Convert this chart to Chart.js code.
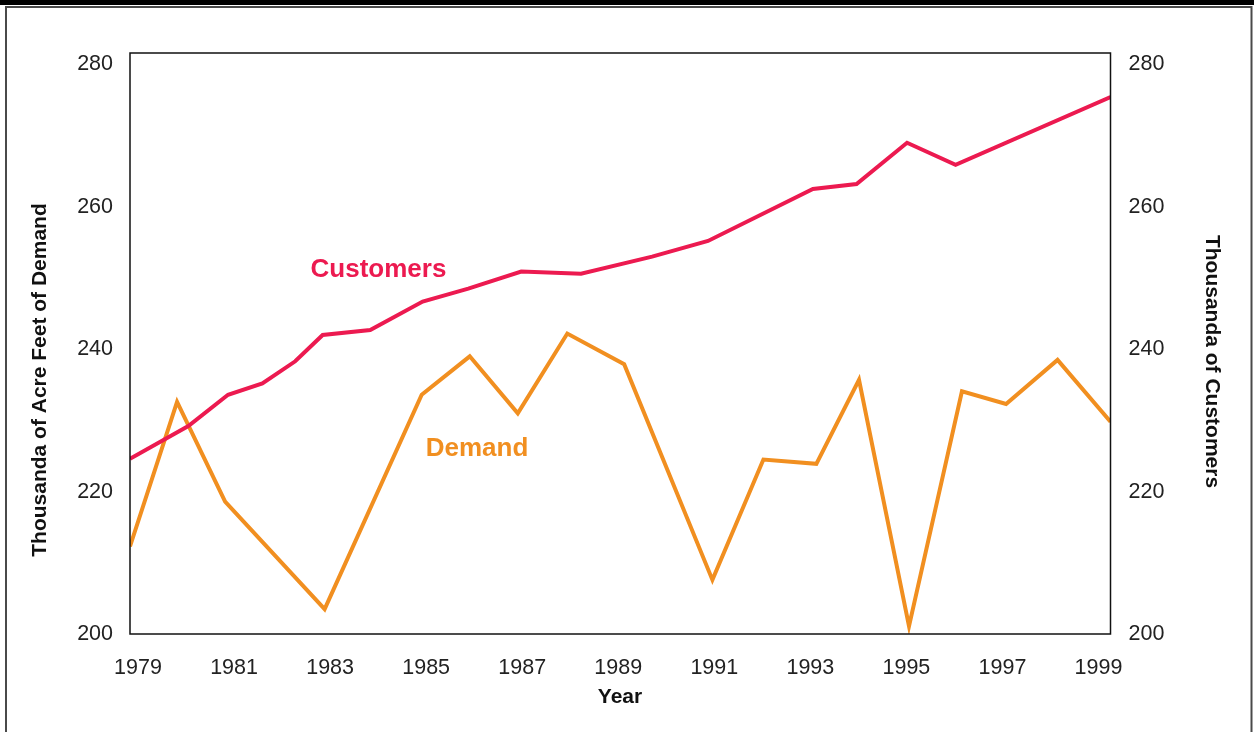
<!DOCTYPE html>
<html>
<head>
<meta charset="utf-8">
<script src="https://cdn.jsdelivr.net/npm/chart.js@4.4.1/dist/chart.umd.min.js"></script>
<style>
  html, body { margin: 0; padding: 0; background: #fff; }
  #wrap { width: 1254px; height: 732px; position: relative; }
</style>
</head>
<body>
<div id="wrap"><canvas id="c" width="1254" height="732"></canvas></div>
<script>
// ---- Data ----
const xTickYears = [1979, 1981, 1983, 1985, 1987, 1989, 1991, 1993, 1995, 1997, 1999];
const yTicks = [200, 220, 240, 260, 280];

const demandYears  = [1979.0, 1979.96, 1980.94, 1982.97, 1984.95, 1985.93, 1986.91, 1987.92, 1989.08, 1990.88, 1991.92, 1993.0, 1993.87, 1994.89, 1995.97, 1996.87, 1997.92, 1999.0];
const demandValues = [212.3, 232.6, 218.6, 203.5, 233.6, 239.0, 231.0, 242.2, 237.9, 207.6, 224.5, 223.9, 235.7, 201.1, 234.1, 232.3, 238.5, 229.8];

const customerYears  = [1979.0, 1980.19, 1981.0, 1981.7, 1982.37, 1982.93, 1983.9, 1984.97, 1985.9, 1986.98, 1988.2, 1989.65, 1990.79, 1992.93, 1993.82, 1994.85, 1995.84, 1999.0];
const customerValues = [224.6, 229.2, 233.6, 235.2, 238.3, 242.0, 242.7, 246.7, 248.5, 250.9, 250.6, 253.0, 255.2, 262.5, 263.2, 269.0, 265.9, 275.4];

const leftTitle = 'Thousanda of Acre Feet of Demand';
const rightTitle = 'Thousanda of Customers';
const xTitle = 'Year';
const customersLabel = 'Customers';
const demandLabel = 'Demand';

const CUST_COLOR = '#EC1A50';
const DEM_COLOR = '#F18F20';
const FONT = "'Liberation Sans', Arial, Helvetica, sans-serif";

const toPts = (xs, ys) => xs.map((x, i) => ({ x: x, y: ys[i] }));

const decorPlugin = {
  id: 'decor',
  beforeDraw(chart) {
    const c = chart.ctx;
    c.save();
    c.fillStyle = '#fff';
    c.fillRect(0, 0, chart.width, chart.height);
    c.fillStyle = '#000';
    c.fillRect(0, 0, 1254, 5);
    c.strokeStyle = '#4a4a4a';
    c.lineWidth = 2;
    c.beginPath();
    c.moveTo(6, 740);
    c.lineTo(6, 7);
    c.lineTo(1251.5, 7);
    c.lineTo(1251.5, 740);
    c.stroke();
    c.restore();
  },
  afterDatasetsDraw(chart) {
    const c = chart.ctx;
    const a = chart.chartArea;
    c.save();
    // plot frame
    c.strokeStyle = '#111';
    c.lineWidth = 1.5;
    c.strokeRect(a.left, a.top, a.right - a.left, a.bottom - a.top);

    // series labels
    c.font = 'bold 26px ' + FONT;
    c.textAlign = 'center';
    c.textBaseline = 'alphabetic';
    c.fillStyle = CUST_COLOR;
    c.fillText(customersLabel, 378.5, 277);
    c.fillStyle = DEM_COLOR;
    c.fillText(demandLabel, 477, 456);

    // axis titles
    c.fillStyle = '#111';
    c.font = 'bold 21px ' + FONT;
    c.fillText(xTitle, 620, 703);

    c.font = 'bold 21px ' + FONT;
    c.textBaseline = 'middle';
    c.save();
    c.translate(40, 380);
    c.rotate(-Math.PI / 2);
    c.fillText(leftTitle, 0, 0);
    c.restore();

    c.save();
    c.translate(1212, 361.5);
    c.rotate(Math.PI / 2);
    c.fillText(rightTitle, 0, 0);
    c.restore();

    c.restore();
  }
};

const tickFont = { family: FONT, size: 21.5 };

new Chart(document.getElementById('c'), {
  type: 'line',
  data: {
    datasets: [
      {
        label: 'Customers',
        data: toPts(customerYears, customerValues),
        xAxisID: 'x',
        yAxisID: 'y2',
        borderColor: CUST_COLOR,
        borderWidth: 4,
        pointRadius: 0,
        tension: 0,
        borderJoinStyle: 'miter',
        fill: false
      },
      {
        label: 'Demand',
        data: toPts(demandYears, demandValues),
        xAxisID: 'x',
        yAxisID: 'y',
        borderColor: DEM_COLOR,
        borderWidth: 4,
        pointRadius: 0,
        tension: 0,
        borderJoinStyle: 'miter',
        fill: false
      }
    ]
  },
  options: {
    responsive: false,
    animation: false,
    layout: { padding: { top: 53, left: 0, right: 0, bottom: 0 } },
    plugins: { legend: { display: false }, tooltip: { enabled: false }, title: { display: false } },
    scales: {
      x: {
        type: 'linear',
        position: 'bottom',
        min: 1979,
        max: 1999,
        display: false
      },
      xl: {
        type: 'linear',
        position: 'bottom',
        min: 1978.8333,
        max: 1999.25,
        grid: { display: false, drawTicks: false },
        border: { display: false },
        afterBuildTicks: s => { s.ticks = xTickYears.map(v => ({ value: v })); },
        afterFit: s => { s.height = 98; },
        ticks: {
          color: '#222',
          font: tickFont,
          padding: 21,
          maxRotation: 0,
          autoSkip: false,
          callback: v => String(v)
        }
      },
      y: {
        type: 'linear',
        position: 'left',
        min: 200,
        max: 281.6,
        grid: { display: false, drawTicks: false },
        border: { display: false },
        afterBuildTicks: s => { s.ticks = yTicks.map(v => ({ value: v })); },
        afterFit: s => { s.width = 130; },
        ticks: { color: '#222', font: tickFont, padding: 17, callback: v => String(v) }
      },
      y2: {
        type: 'linear',
        position: 'right',
        min: 200,
        max: 281.6,
        grid: { display: false, drawTicks: false },
        border: { display: false },
        afterBuildTicks: s => { s.ticks = yTicks.map(v => ({ value: v })); },
        afterFit: s => { s.width = 143.5; },
        ticks: { color: '#222', font: tickFont, padding: 18, callback: v => String(v) }
      }
    }
  },
  plugins: [decorPlugin]
});
</script>
</body>
</html>
